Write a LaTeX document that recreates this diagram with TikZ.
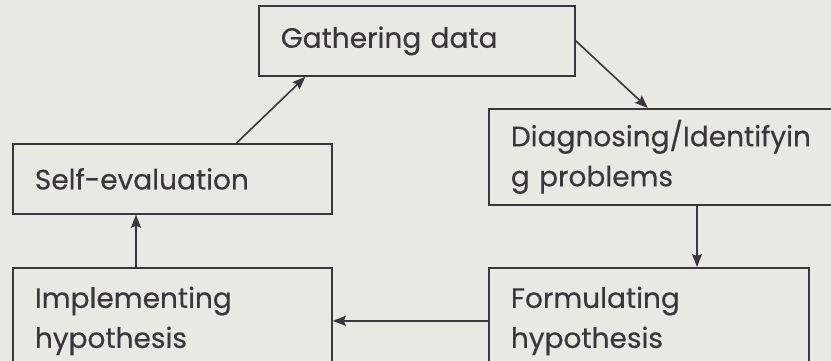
\documentclass[tikz,border=0pt]{standalone}
\usepackage{fontspec}
\setmainfont{Poppins}[FakeBold=0.4]
\usepackage{xcolor}
\usetikzlibrary{shapes,arrows,arrows.meta,positioning,calc}
\definecolor{paper}{RGB}{234,232,229}
\definecolor{ink}{RGB}{58,54,60}

\begin{document}
\begin{tikzpicture}[
    x=1pt, y=-1pt,
    box/.style={rectangle, draw=ink, line width=1.8pt, anchor=north west, align=left, inner xsep=22pt, inner ysep=0pt, font=\fontsize{28}{40}\selectfont, text=ink},
    arrow/.style={-{Stealth[length=13pt, width=10pt, inset=2pt]}, draw=ink, line width=1.6pt}
]
\useasboundingbox (0,0) rectangle (831,361);
\fill[paper] (0,0) rectangle (831,361);
\clip (0,0) rectangle (831,361);

% Boxes
\node[box, minimum width=316pt, minimum height=70pt, text width=272pt] (gather) at (258,5) {Gathering data};
\node[box, minimum width=364pt, minimum height=96pt, text width=320pt] (diag) at (488,108) {Diagnosing/Identifyin\\g problems};
\node[box, minimum width=319pt, minimum height=70pt, text width=275pt] (selfev) at (12,143) {Self-evaluation};
\node[box, minimum width=319pt, minimum height=106pt, text width=275pt] (impl) at (12,267) {Implementing\\hypothesis};
\node[box, minimum width=320pt, minimum height=106pt, text width=276pt] (form) at (488,267) {Formulating\\hypothesis};

% Cycle
\coordinate (d1) at ($(diag.south west)+(209,0)$);
\coordinate (i1) at ($(impl.north west)+(124,0)$);
\draw[arrow] ($(selfev.north west)!0.70!(selfev.north east)$) -- ($(gather.south west)!0.149!(gather.south east)$);
\draw[arrow] (gather.east) -- ($(diag.north west)!0.437!(diag.north east)$);
\draw[arrow] (d1) -- (d1 |- form.north);
\draw[arrow] (form.west) -- (impl.east);
\draw[arrow] (i1) -- (i1 |- selfev.south);

\end{tikzpicture}
\end{document}
